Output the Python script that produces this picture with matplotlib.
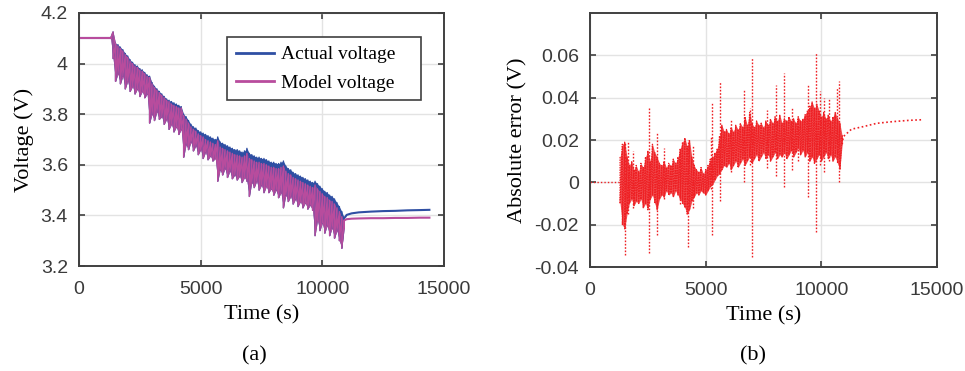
import numpy as np
import matplotlib
matplotlib.use("Agg")
import matplotlib.pyplot as plt
from matplotlib.lines import Line2D
from matplotlib.ticker import FuncFormatter

plt.rcParams['axes.unicode_minus'] = False

# ---------------- data ----------------
# time grid of the noisy (drive-cycle) part, seconds
t_noisy = [1300, 1400, 1500, 1600, 1700, 1800, 1900, 2000, 2100, 2200,
           2300, 2400, 2500, 2600, 2700, 2800, 2900, 3000, 3100, 3200,
           3300, 3400, 3500, 3600, 3700, 3800, 3900, 4000, 4100, 4200,
           4300, 4400, 4500, 4600, 4700, 4800, 4900, 5000, 5100, 5200,
           5300, 5400, 5500, 5600, 5700, 5800, 5900, 6000, 6100, 6200,
           6300, 6400, 6500, 6600, 6700, 6800, 6900, 7000, 7100, 7200,
           7300, 7400, 7500, 7600, 7700, 7800, 7900, 8000, 8100, 8200,
           8300, 8400, 8500, 8600, 8700, 8800, 8900, 9000, 9100, 9200,
           9300, 9400, 9500, 9600, 9700, 9800, 9900, 10000, 10100, 10200,
           10300, 10400, 10500, 10600, 10700, 10800, 10900]

actual_hi = [4.10, 4.125, 4.08, 4.075, 4.065, 4.055, 4.04, 4.03, 4.015, 4.005,
             3.995, 3.99, 3.98, 3.975, 3.965, 3.955, 3.95, 3.925, 3.91, 3.90,
             3.89, 3.88, 3.87, 3.86, 3.855, 3.85, 3.845, 3.84, 3.835, 3.83,
             3.80, 3.79, 3.775, 3.76, 3.75, 3.745, 3.735, 3.73, 3.725, 3.72,
             3.715, 3.71, 3.705, 3.70, 3.71, 3.69, 3.685, 3.68, 3.675, 3.67,
             3.665, 3.66, 3.66, 3.655, 3.65, 3.655, 3.665, 3.645, 3.64, 3.635,
             3.63, 3.63, 3.625, 3.625, 3.62, 3.615, 3.61, 3.61, 3.605, 3.605,
             3.61, 3.615, 3.595, 3.585, 3.58, 3.57, 3.565, 3.56, 3.555, 3.55,
             3.545, 3.54, 3.535, 3.53, 3.535, 3.525, 3.515, 3.505, 3.495, 3.49,
             3.48, 3.475, 3.465, 3.45, 3.435, 3.415, 3.39]

model_hi = [4.10, 4.125, 4.08, 4.07, 4.06, 4.05, 4.035, 4.025, 4.01, 4.0,
            3.99, 3.985, 3.975, 3.97, 3.96, 3.95, 3.945, 3.92, 3.905, 3.895,
            3.885, 3.875, 3.865, 3.855, 3.85, 3.84, 3.835, 3.83, 3.825, 3.825,
            3.795, 3.78, 3.765, 3.75, 3.74, 3.733, 3.722, 3.715, 3.71, 3.70,
            3.695, 3.69, 3.685, 3.68, 3.695, 3.67, 3.665, 3.66, 3.655, 3.65,
            3.645, 3.64, 3.638, 3.635, 3.63, 3.635, 3.645, 3.625, 3.62, 3.615,
            3.61, 3.61, 3.605, 3.605, 3.60, 3.595, 3.59, 3.59, 3.585, 3.585,
            3.59, 3.595, 3.575, 3.565, 3.56, 3.55, 3.545, 3.54, 3.535, 3.53,
            3.525, 3.52, 3.515, 3.51, 3.52, 3.505, 3.495, 3.485, 3.475, 3.47,
            3.46, 3.455, 3.445, 3.43, 3.415, 3.395, 3.38]

model_lo = [4.10, 4.02, 3.93, 3.96, 3.92, 3.95, 3.90, 3.93, 3.89, 3.91,
            3.88, 3.90, 3.87, 3.89, 3.865, 3.88, 3.765, 3.80, 3.775, 3.81,
            3.78, 3.79, 3.76, 3.78, 3.74, 3.76, 3.73, 3.75, 3.72, 3.74,
            3.63, 3.68, 3.66, 3.69, 3.655, 3.675, 3.64, 3.66, 3.625, 3.65,
            3.62, 3.635, 3.615, 3.625, 3.535, 3.58, 3.56, 3.585, 3.55, 3.575,
            3.545, 3.56, 3.54, 3.555, 3.53, 3.55, 3.535, 3.475, 3.53, 3.51,
            3.535, 3.50, 3.52, 3.49, 3.515, 3.49, 3.505, 3.48, 3.50, 3.47,
            3.49, 3.43, 3.48, 3.455, 3.475, 3.445, 3.465, 3.435, 3.455, 3.43,
            3.45, 3.425, 3.44, 3.42, 3.32, 3.38, 3.34, 3.37, 3.33, 3.36,
            3.32, 3.35, 3.31, 3.34, 3.30, 3.27, 3.35]

# rest periods before / after the drive cycles
t_pre = [0, 1300]
v_pre = [4.10, 4.10]
t_post = [10900, 10950, 11000, 11200, 11500, 12000, 12500, 13000, 13500, 14000, 14400]
actual_post = [3.39, 3.395, 3.402, 3.408, 3.412, 3.415, 3.417, 3.418, 3.420, 3.421, 3.422]
model_post = [3.38, 3.383, 3.385, 3.387, 3.388, 3.389, 3.389, 3.390, 3.390, 3.391, 3.391]

# ---- panel (b): absolute error ----
err_hi = [0.012, 0.018, 0.019, 0.012, 0.008, 0.010, 0.006, 0.008, 0.005, 0.009,
          0.007, 0.012, 0.015, 0.010, 0.018, 0.014, 0.012, 0.009, 0.008, 0.010,
          0.007, 0.009, 0.008, 0.011, 0.009, 0.012, 0.016, 0.019, 0.021, 0.017,
          0.020, 0.012, 0.008, 0.006, 0.005, 0.007, 0.004, 0.006, 0.008, 0.011,
          0.012, 0.014, 0.016, 0.022, 0.027, 0.024, 0.025, 0.023, 0.026, 0.024,
          0.027, 0.025, 0.028, 0.026, 0.031, 0.027, 0.033, 0.028, 0.026, 0.029,
          0.027, 0.028, 0.026, 0.029, 0.027, 0.030, 0.028, 0.031, 0.029, 0.032,
          0.028, 0.030, 0.029, 0.031, 0.029, 0.030, 0.028, 0.031, 0.029, 0.030,
          0.032, 0.034, 0.036, 0.038, 0.035, 0.037, 0.034, 0.031, 0.033, 0.030,
          0.032, 0.029, 0.031, 0.033, 0.030, 0.028, 0.022]

err_lo = [-0.010, -0.020, -0.022, -0.015, -0.010, -0.008, -0.011, -0.009, -0.010, -0.008,
          -0.012, -0.010, -0.013, -0.008, -0.006, -0.010, -0.013, -0.008, -0.006, -0.007,
          -0.004, -0.006, -0.005, -0.007, -0.004, -0.006, -0.008, -0.010, -0.012, -0.015,
          -0.013, -0.009, -0.007, -0.005, -0.006, -0.004, -0.005, -0.006, -0.004, -0.002,
          -0.001, 0.001, 0.003, 0.004, 0.006, 0.008, 0.007, 0.009, 0.006, 0.008,
          0.010, 0.007, 0.009, 0.011, 0.008, 0.010, 0.012, 0.009, 0.011, 0.013,
          0.010, 0.012, 0.014, 0.011, 0.013, 0.010, 0.012, 0.014, 0.011, 0.013,
          0.012, 0.014, 0.011, 0.013, 0.015, 0.012, 0.014, 0.016, 0.013, 0.015,
          0.012, 0.014, 0.010, 0.012, 0.009, 0.011, 0.013, 0.010, 0.012, 0.014,
          0.011, 0.013, 0.010, 0.012, 0.009, 0.006, 0.018]

spike_t = [1500, 1640, 1860, 2550, 2880, 3190, 3900, 4250, 4460, 5250,
           5290, 5620, 6100, 6670, 6900, 7020, 7630, 8040, 8390, 8720,
           9000, 9410, 9770, 9940, 10100, 10350, 10660, 10780]
spike_top = [0.019, 0.019, 0.015, 0.0353, 0.024, 0.016, 0.016, 0.020, 0.0175, 0.022,
             0.0376, 0.0478, 0.030, 0.044, 0.035, 0.0587, 0.034, 0.046, 0.0517, 0.035,
             0.030, 0.046, 0.061, 0.043, 0.040, 0.040, 0.045, 0.048]
spike_bot = [-0.0344, -0.015, -0.012, -0.0336, -0.025, -0.008, -0.010, -0.0305, -0.012, -0.003,
             -0.025, -0.009, 0.005, 0.0, 0.008, -0.0352, 0.007, 0.003, -0.002, 0.006,
             0.010, -0.007, -0.0234, 0.008, 0.005, 0.010, 0.012, 0.0]

t_err_pre = [0, 1300]
err_pre = [0.0, 0.0]
t_err_post = [10900, 10950, 11300, 11800, 12400, 13100, 13800, 14400]
err_post = [0.018, 0.0216, 0.0251, 0.0263, 0.0279, 0.0287, 0.0293, 0.0296]

x_ticks = [0, 5000, 10000, 15000]
v_ticks = [3.2, 3.4, 3.6, 3.8, 4.0, 4.2]
e_ticks = [-0.04, -0.02, 0, 0.02, 0.04, 0.06]

# ---------------- styling ----------------
BLUE = '#2f4fa3'
MAGENTA = '#b84c9d'
RED = '#ee2024'
SPINE = '#404040'
GRID = '#e3e3e3'
TICKFONT = 'Liberation Sans'
SERIF = 'Liberation Serif'


def zig(t, hi, lo):
    xs = np.repeat(np.asarray(t, float), 2)
    ys = np.column_stack([hi, lo]).ravel()
    return xs, ys


def style(ax, yticks, xlim, ylim):
    ax.set_xlim(*xlim)
    ax.set_ylim(*ylim)
    ax.set_xticks(x_ticks)
    ax.set_yticks(yticks)
    ax.xaxis.set_major_formatter(FuncFormatter(lambda v, p: '%g' % v))
    ax.yaxis.set_major_formatter(FuncFormatter(lambda v, p: '%g' % round(v, 4)))
    ax.grid(True, color=GRID, lw=1.0)
    ax.set_axisbelow(True)
    for s in ax.spines.values():
        s.set_color(SPINE)
        s.set_linewidth(1.4)
    ax.tick_params(direction='in', length=4, width=1.2, color=SPINE,
                   top=True, right=True, labelsize=14, labelcolor='#3a3a3a')
    ax.tick_params(axis='x', pad=11)
    ax.tick_params(axis='y', pad=8)
    for lab in ax.get_xticklabels() + ax.get_yticklabels():
        lab.set_fontfamily(TICKFONT)


fig = plt.figure(figsize=(9.65, 3.71), dpi=100)
ax1 = fig.add_axes([0.0819, 0.2830, 0.3782, 0.6820])
ax2 = fig.add_axes([0.6114, 0.2803, 0.3596, 0.6846])

# ---- panel (a)
ax1.fill_between(t_noisy, model_lo, actual_hi, color=BLUE, lw=0)
xa, ya = zig(t_noisy, actual_hi, model_lo)
ax1.plot(xa, ya, color=BLUE, lw=1.0)
ax1.plot(t_pre, v_pre, color=BLUE, lw=1.5)
ax1.plot(t_post, actual_post, color=BLUE, lw=1.5)
ax1.fill_between(t_noisy, model_lo, model_hi, color=MAGENTA, lw=0)
xm, ym = zig(t_noisy, model_hi, model_lo)
ax1.plot(xm, ym, color=MAGENTA, lw=1.0)
ax1.plot(t_pre, v_pre, color=MAGENTA, lw=1.5)
ax1.plot(t_post, model_post, color=MAGENTA, lw=1.5)
style(ax1, v_ticks, (0, 15000), (3.2, 4.2))
ax1.set_xlabel('Time (s)', fontfamily=SERIF, fontsize=16, labelpad=5)
ax1.set_ylabel('Voltage (V)', fontfamily=SERIF, fontsize=16, labelpad=5)
handles = [Line2D([], [], color=BLUE, lw=2), Line2D([], [], color=MAGENTA, lw=2)]
leg = ax1.legend(handles, ['Actual voltage', 'Model voltage'],
                 loc='upper left', bbox_to_anchor=(0.405, 0.656, 0.532, 0.249),
                 mode='expand',
                 prop={'family': SERIF, 'size': 14}, fancybox=False,
                 edgecolor=SPINE, framealpha=1, handlelength=2.0,
                 handletextpad=0.35, borderpad=0.45, labelspacing=0.55,
                 borderaxespad=0)
leg.get_frame().set_linewidth(1.2)

# ---- panel (b)
ax2.fill_between(t_noisy, err_lo, err_hi, color=RED, lw=0, alpha=0.8)
xe, ye = zig(t_noisy, err_hi, err_lo)
ax2.plot(xe, ye, color=RED, lw=0.9, ls=(0, (1.2, 0.8)))
ax2.vlines(spike_t, spike_bot, spike_top, color=RED, lw=1.0, linestyles=(0, (1.2, 1.2)))
ax2.plot(t_err_pre, err_pre, color=RED, lw=1.0, ls=(0, (1, 1.5)))
ax2.plot(t_err_post, err_post, color=RED, lw=1.2, ls=(0, (1, 1.5)))
style(ax2, e_ticks, (0, 15000), (-0.04, 0.08))
ax2.set_xlabel('Time (s)', fontfamily=SERIF, fontsize=16, labelpad=5)
ax2.set_ylabel('Absolute error (V)', fontfamily=SERIF, fontsize=16, labelpad=5)

fig.text(0.2635, 0.042, '(a)', ha='center', va='center', fontfamily=SERIF, fontsize=16)
fig.text(0.7805, 0.042, '(b)', ha='center', va='center', fontfamily=SERIF, fontsize=16)

fig.savefig('out.png', dpi=100)
